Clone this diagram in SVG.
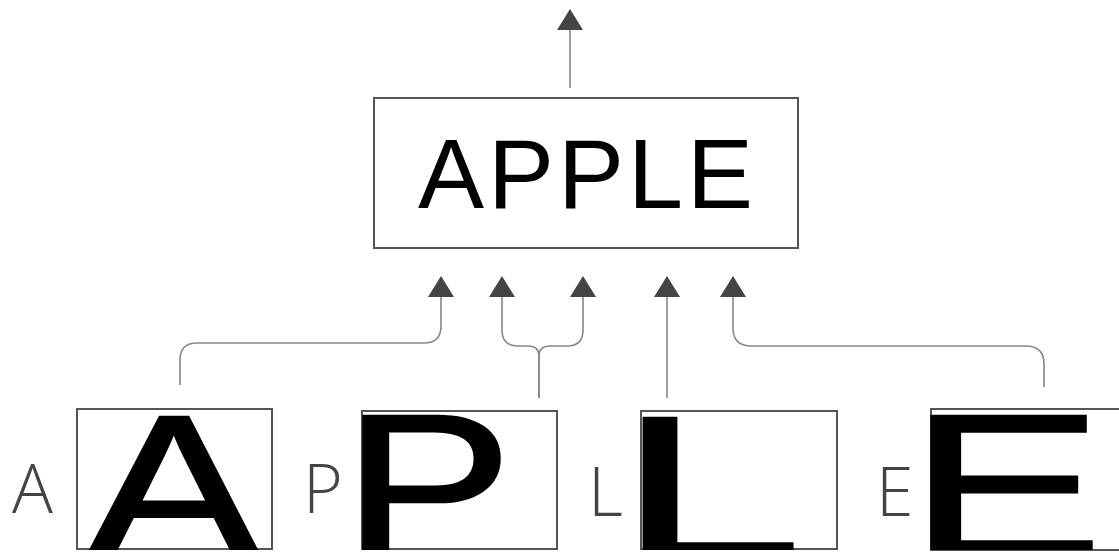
<svg xmlns="http://www.w3.org/2000/svg" width="1119" height="552" viewBox="0 0 1119 552">
<style>
.box{fill:none;stroke:#555;stroke-width:2}
.conn{fill:none;stroke:#888;stroke-width:1.6}
.big{font-family:"Liberation Sans",Arial,sans-serif;font-size:205px;fill:#000;stroke:#000;stroke-width:3;vector-effect:non-scaling-stroke;stroke-linejoin:miter}
.small{font-family:"Open Sans",Lato,"Liberation Sans",sans-serif;font-weight:300;font-size:68px;fill:#444}
.title{font-family:"Liberation Sans",Arial,sans-serif;font-size:99px;fill:#000}
</style>
<defs>
<marker id="arr" viewBox="0 0 21 26" refX="0" refY="13" markerWidth="21" markerHeight="26" markerUnits="userSpaceOnUse" orient="auto">
<path d="M0,0 L21,13 L0,26 z" fill="#444"/>
</marker>
<clipPath id="clipBottom"><rect x="0" y="400" width="1119" height="150"/></clipPath>
</defs>
<rect width="1119" height="552" fill="#fff"/>
<g id="connectors">
<path class="conn" marker-end="url(#arr)" d="M570,88 V30"/>
<path class="conn" marker-end="url(#arr)" d="M180,385 V360 Q180,343 197,343 H424 Q441,343 441,326 V297"/>
<path class="conn" marker-end="url(#arr)" d="M539,398 V356 Q539,346 528,346 H518 Q502,346 502,330 V297"/>
<path class="conn" marker-end="url(#arr)" d="M539,398 V356 Q539,346 550,346 H567 Q583,346 583,330 V297"/>
<path class="conn" marker-end="url(#arr)" d="M667,398 V297"/>
<path class="conn" marker-end="url(#arr)" d="M1044,387 V364 Q1044,346 1026,346 H751 Q733,346 733,328 V297"/>
</g>
<g id="node-apple">
<rect class="box" x="374" y="98" width="424" height="150"/>
<text class="title" x="418" y="208" textLength="335" lengthAdjust="spacing">APPLE</text>
</g>
<g id="node-a">
<text class="small" x="12" y="513">A</text>
<rect class="box" x="77" y="409" width="195" height="140"/>
<g clip-path="url(#clipBottom)"><text class="big" transform="translate(86,558) scale(1.28,1)">A</text></g>
</g>
<g id="node-p">
<text class="small" x="303" y="513">P</text>
<rect class="box" x="362" y="411" width="195" height="138"/>
<g clip-path="url(#clipBottom)"><text class="big" transform="translate(343,557) scale(1.24,1)">P</text></g>
</g>
<g id="node-l">
<text class="small" x="588" y="516">L</text>
<rect class="box" x="641" y="411" width="196" height="138"/>
<g clip-path="url(#clipBottom)"><text class="big" transform="translate(617,559) scale(1.63,1)">L</text></g>
</g>
<g id="node-e">
<text class="small" x="876" y="516">E</text>
<rect class="box" x="931" y="409" width="200" height="141"/>
<g clip-path="url(#clipBottom)"><text class="big" transform="translate(908,557) scale(1.43,1)">E</text></g>
</g>
</svg>
